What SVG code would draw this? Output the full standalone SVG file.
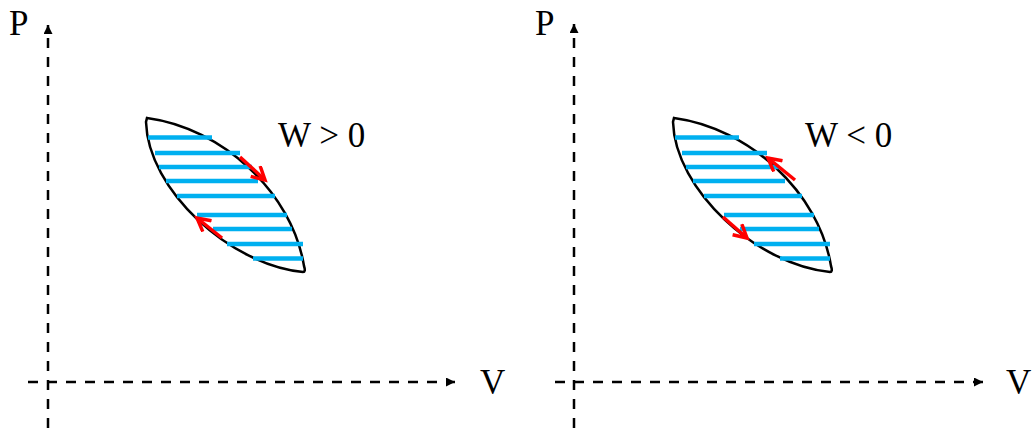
<svg xmlns="http://www.w3.org/2000/svg" width="1034" height="428" viewBox="0 0 1034 428">
<style>
.axis{stroke:#000;stroke-width:2.5;stroke-dasharray:10 9;fill:none}
.loop{stroke:#000;stroke-width:2.5;fill:none}
.hatch{stroke:#00B0F0;stroke-width:4.5;fill:none}
.flow{stroke:#FF0000;stroke-width:3.5;fill:none}
.lbl{font-family:"Liberation Serif","Times New Roman",serif;font-size:35px;fill:#000}
</style>
<defs>
<marker id="ah" markerUnits="userSpaceOnUse" markerWidth="10" markerHeight="10" refX="9" refY="4.5" orient="auto">
<path d="M0,0 L9,4.5 L0,9 Z" fill="#000"/>
</marker>
<marker id="rh" markerUnits="userSpaceOnUse" markerWidth="18" markerHeight="18" refX="14" refY="8" orient="auto">
<path d="M1,1 L14,8 L1,15" stroke="#FF0000" stroke-width="3.5" fill="none"/>
</marker>
<g id="lens">
<path class="loop" d="M147,118 C222,128 292,192 304,266 Q306,272 303,272 C230,265 148,190 146,122 Z"/>
<g class="hatch">
<line x1="148" y1="137.5" x2="212" y2="137.5"/>
<line x1="155" y1="153" x2="240" y2="153"/>
<line x1="159" y1="167" x2="252" y2="167"/>
<line x1="166" y1="181" x2="258" y2="181"/>
<line x1="177" y1="196" x2="275" y2="196"/>
<line x1="197" y1="215" x2="287" y2="215"/>
<line x1="213" y1="229" x2="292" y2="229"/>
<line x1="227" y1="244" x2="303" y2="244"/>
<line x1="253" y1="258.5" x2="303" y2="258.5"/>
</g>
</g>
</defs>
<g id="panel-left">
<g id="axes-left">
<line class="axis" x1="48" y1="428" x2="48" y2="25" marker-end="url(#ah)"/>
<line class="axis" x1="28" y1="382" x2="455" y2="382" marker-end="url(#ah)"/>
</g>
<text class="lbl" x="9" y="35">P</text>
<text class="lbl" x="480" y="394">V</text>
<g id="cycle-left">
<use href="#lens"/>
</g>
<g id="arrows-left">
<line class="flow" x1="240" y1="157" x2="265" y2="180" marker-end="url(#rh)"/>
<line class="flow" x1="222" y1="238" x2="197" y2="218" marker-end="url(#rh)"/>
</g>
<text class="lbl" x="278" y="147">W &gt; 0</text>
</g>
<g id="panel-right">
<g id="axes-right">
<line class="axis" x1="574" y1="428" x2="574" y2="24" marker-end="url(#ah)"/>
<line class="axis" x1="555" y1="382" x2="983" y2="382" marker-end="url(#ah)"/>
</g>
<text class="lbl" x="535" y="35">P</text>
<text class="lbl" x="1006" y="394">V</text>
<g id="cycle-right">
<use href="#lens" transform="translate(527,0)"/>
</g>
<g id="arrows-right">
<line class="flow" x1="795" y1="180" x2="768" y2="158" marker-end="url(#rh)"/>
<line class="flow" x1="723" y1="217" x2="747" y2="238" marker-end="url(#rh)"/>
</g>
<text class="lbl" x="805" y="147">W &lt; 0</text>
</g>
</svg>
